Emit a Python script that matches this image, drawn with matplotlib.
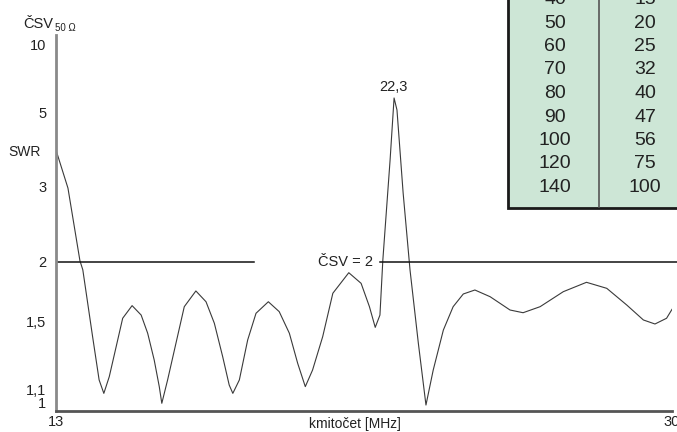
import numpy as np
import matplotlib
matplotlib.use("Agg")
import matplotlib.pyplot as plt
from matplotlib.patches import Rectangle

plt.rcParams['font.family'] = ['Liberation Sans', 'DejaVu Sans']

# === data ===
freq = [13.00, 13.33, 13.66, 13.74, 14.01, 14.19, 14.32, 14.47, 14.66, 14.84,
        15.10, 15.35, 15.53, 15.71, 15.85, 15.92, 16.08, 16.31, 16.54, 16.86,
        17.14, 17.37, 17.60, 17.78, 17.88, 18.06, 18.29, 18.52, 18.86, 19.16,
        19.44, 19.67, 19.88, 20.08, 20.36, 20.64, 21.08, 21.42, 21.65, 21.81,
        21.94, 22.02, 22.22, 22.33, 22.41, 22.58, 22.77, 23.00, 23.21, 23.41,
        23.69, 23.96, 24.24, 24.56, 24.98, 25.53, 25.89, 26.36, 27.00, 27.64,
        28.20, 28.75, 29.21, 29.53, 29.85, 30.00]
swr = [3.79, 2.98, 2.01, 1.92, 1.398, 1.149, 1.082, 1.166, 1.335, 1.522,
       1.615, 1.545, 1.420, 1.257, 1.115, 1.035, 1.149, 1.356, 1.607, 1.732,
       1.645, 1.487, 1.276, 1.123, 1.082, 1.149, 1.377, 1.558, 1.645, 1.570,
       1.420, 1.238, 1.115, 1.201, 1.398, 1.713, 1.893, 1.797, 1.607, 1.459,
       1.545, 2.017, 3.548, 5.637, 5.095, 2.896, 1.919, 1.356, 1.027, 1.201,
       1.441, 1.607, 1.707, 1.740, 1.685, 1.582, 1.562, 1.607, 1.726, 1.806,
       1.754, 1.620, 1.510, 1.482, 1.522, 1.587]

peak_f = 22.3
swr_limit = 2

yticks = [1, 1.1, 1.5, 2, 3, 5, 10]
ytick_labels = ["1", "1,1", "1,5", "2", "3", "5", "10"]
xticks = [13, 30]

tab_left = [40, 50, 60, 70, 80, 90, 100, 120, 140]
tab_right = [15, 20, 25, 32, 40, 47, 56, 75, 100]


# y axis is linear in reflection coefficient
def fwd(s):
    s = np.asarray(s, dtype=float)
    return (s - 1) / (s + 1)


def inv(g):
    g = np.clip(np.asarray(g, dtype=float), -0.99, 0.999)
    return (1 + g) / (1 - g)


fig = plt.figure(figsize=(6.77, 4.32), dpi=100)
ax = fig.add_axes([56 / 677, 21 / 432, 616 / 677, 411 / 432])
ax.set_facecolor('none')
ax.set_yscale('function', functions=(fwd, inv))
ax.set_xlim(13, 30)
ax.set_ylim(1, 23.2)

ax.plot(freq, swr, color='#3a3a3a', lw=0.8, solid_joinstyle='round')

# CSV = 2 line, broken around the label
ax.plot([13, 18.46], [swr_limit, swr_limit], color='#111111', lw=1.1)
ax.plot([21.94, 30.14], [swr_limit, swr_limit], color='#111111', lw=1.1, clip_on=False)
ax.text(21.75, swr_limit, "ČSV = %d" % swr_limit, ha='right', va='center',
        fontsize=10.5, color='#222222')

ax.text(peak_f, 6.2, str(peak_f).replace('.', ','), ha='center', va='center',
        fontsize=10.5, color='#222222')

for s in ['top', 'right']:
    ax.spines[s].set_visible(False)
ax.spines['left'].set_color('#8a8a8a')
ax.spines['left'].set_linewidth(2)
ax.spines['left'].set_bounds(1, 11.4)
ax.spines['bottom'].set_color('#555555')
ax.spines['bottom'].set_linewidth(2)

ax.set_yticks(yticks)
ax.set_yticklabels(ytick_labels)
ax.set_xticks(xticks)
ax.set_xticklabels([str(x) for x in xticks])
ax.tick_params(axis='both', length=0, labelsize=10.5, colors='#222222')
ax.tick_params(axis='y', pad=7)
ax.tick_params(axis='x', pad=3)
ax.get_yticklabels()[0].set_va('bottom')

ax.text((355 - 56) / 616, -13 / 411, "kmitočet [MHz]", transform=ax.transAxes,
        ha='center', va='center', fontsize=10, color='#222222')

# overlay in pixel coordinates for labels and the table
ov = fig.add_axes([0, 0, 1, 1])
ov.set_xlim(0, 677)
ov.set_ylim(432, 0)
ov.axis('off')
ov.set_facecolor('none')

ov.text(23, 24, "ČSV", ha='left', va='center', fontsize=10.5, color='#222222')
ov.text(55, 28, "50 Ω", ha='left', va='center', fontsize=7, color='#222222')
ov.text(8, 152, "SWR", ha='left', va='center', fontsize=10, color='#222222')

ov.add_patch(Rectangle((508, -20), 200, 228, facecolor='#cde6d6',
                       edgecolor='#1a1a1a', lw=2))
ov.plot([599, 599], [-20, 207], color='#555555', lw=1.2)
for i, (a, b) in enumerate(zip(tab_left, tab_right)):
    yc = -0.5 + 23.5 * i
    ov.text(555, yc, str(a), ha='center', va='center', fontsize=14, color='#222222')
    ov.text(645, yc, str(b), ha='center', va='center', fontsize=14, color='#222222')

fig.savefig("out.png", dpi=100)
plt.close()
